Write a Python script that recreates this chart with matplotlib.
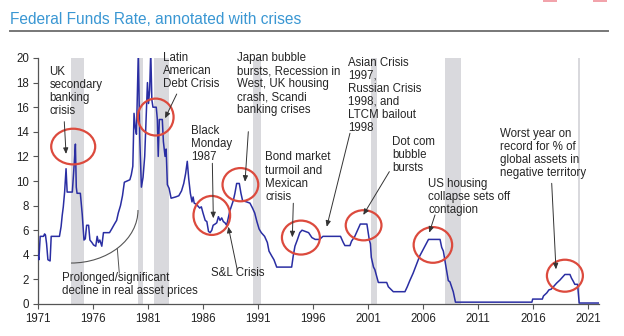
import matplotlib
matplotlib.use("Agg")
import matplotlib.pyplot as plt
from matplotlib.patches import Ellipse, Arc, Rectangle
from matplotlib.lines import Line2D

# Federal funds rate
years = [1971.00, 1971.08, 1971.20, 1971.50, 1971.60, 1971.68, 1971.78, 1971.90, 1972.10, 1972.20,
         1972.95, 1973.10, 1973.20, 1973.30, 1973.42, 1973.55, 1973.65, 1974.12, 1974.30, 1974.40,
         1974.48, 1974.55, 1974.85, 1975.02, 1975.18, 1975.30, 1975.42, 1975.60, 1975.72, 1975.90,
         1976.05, 1976.25, 1976.38, 1976.50, 1976.62, 1976.80, 1976.95, 1977.50, 1977.70, 1977.95,
         1978.15, 1978.30, 1978.50, 1978.68, 1978.85, 1979.35, 1979.48, 1979.62, 1979.73, 1979.85,
         1979.95, 1980.12, 1980.25, 1980.40, 1980.55, 1980.70, 1980.85, 1980.95, 1981.05, 1981.15,
         1981.25, 1981.35, 1981.45, 1981.75, 1981.85, 1981.93, 1982.03, 1982.30, 1982.40, 1982.55,
         1982.65, 1982.76, 1982.92, 1983.10, 1983.50, 1983.80, 1984.05, 1984.25, 1984.42, 1984.57,
         1984.70, 1984.85, 1985.00, 1985.10, 1985.20, 1985.40, 1985.70, 1985.85, 1986.00, 1986.20,
         1986.35, 1986.50, 1986.65, 1986.80, 1986.92, 1987.10, 1987.25, 1987.40, 1987.55, 1987.70,
         1987.85, 1988.00, 1988.15, 1988.30, 1988.45, 1988.75, 1988.90, 1989.06, 1989.30, 1989.45,
         1989.60, 1989.97, 1990.27, 1990.50, 1990.70, 1990.90, 1991.10, 1991.30, 1991.60, 1991.85,
         1992.00, 1992.25, 1992.45, 1992.70, 1994.06, 1994.20, 1994.36, 1994.57, 1994.80, 1995.00,
         1995.30, 1995.60, 1995.90, 1996.20, 1996.60, 1996.90, 1998.50, 1998.75, 1998.90, 1999.36,
         1999.50, 1999.80, 2000.00, 2000.30, 2000.90, 2001.03, 2001.12, 2001.22, 2001.30, 2001.50,
         2001.62, 2001.80, 2001.94, 2002.70, 2002.85, 2003.30, 2004.36, 2004.57, 2004.80, 2005.10,
         2005.40, 2005.70, 2006.00, 2006.30, 2006.50, 2007.55, 2007.70, 2007.85, 2008.00, 2008.15,
         2008.30, 2008.45, 2008.75, 2008.95, 2015.90, 2015.97, 2016.85, 2016.95, 2017.25, 2017.45,
         2017.65, 2017.85, 2018.15, 2018.45, 2018.75, 2018.90, 2019.36, 2019.50, 2019.66, 2019.80,
         2020.05, 2020.20, 2022.00]
rates = [4.0, 3.6, 5.5, 5.5, 5.7, 5.6, 4.9, 3.6, 3.5, 5.5,
         5.5, 6.3, 7.2, 7.9, 9.1, 11.0, 9.1, 9.1, 11.5, 13.0,
         9.5, 9.0, 9.0, 7.3, 5.2, 5.3, 6.4, 6.4, 5.2, 5.0,
         4.8, 4.7, 5.5, 5.0, 5.2, 4.7, 5.8, 5.8, 6.1, 6.5,
         6.8, 7.4, 8.0, 8.8, 9.9, 10.1, 10.5, 11.2, 15.5, 14.3,
         13.8, 20.5, 13.5, 9.5, 10.3, 12.0, 15.5, 18.0, 16.3, 17.4,
         20.5, 16.6, 16.0, 16.0, 15.0, 12.0, 15.0, 15.0, 13.2, 12.0,
         12.6, 9.7, 9.4, 8.6, 8.7, 8.8, 9.2, 9.8, 10.6, 11.6,
         10.2, 9.0, 8.3, 8.7, 8.2, 8.1, 7.8, 7.9, 7.4, 6.8,
         6.7, 5.9, 5.8, 6.0, 6.4, 6.5, 6.6, 7.1, 6.8, 7.0,
         6.7, 6.6, 6.4, 7.0, 7.6, 8.4, 9.0, 9.8, 9.8, 9.0,
         8.4, 8.3, 8.2, 7.8, 7.4, 6.7, 6.1, 5.8, 5.5, 5.0,
         4.3, 3.9, 3.6, 3.0, 3.0, 3.9, 4.7, 5.2, 5.8, 6.0,
         5.9, 5.8, 5.4, 5.25, 5.25, 5.5, 5.5, 5.0, 4.75, 4.75,
         5.1, 5.5, 5.9, 6.5, 6.5, 5.7, 5.2, 4.9, 3.8, 3.0,
         2.8, 2.2, 1.75, 1.75, 1.4, 1.0, 1.0, 1.4, 1.9, 2.5,
         3.2, 3.9, 4.4, 4.9, 5.25, 5.25, 4.6, 4.3, 3.5, 2.7,
         1.9, 1.8, 1.0, 0.15, 0.15, 0.4, 0.4, 0.65, 0.9, 1.15,
         1.2, 1.4, 1.7, 1.95, 2.25, 2.4, 2.4, 2.1, 1.85, 1.6,
         1.6, 0.08, 0.08]

recession_start = [1974.0, 1980.12, 1981.57, 1990.57, 2001.27, 2008.0, 2020.06]
recession_end = [1975.2, 1980.57, 1982.9, 1991.24, 2001.85, 2009.43, 2020.27]

xtick_years = [1971, 1976, 1981, 1986, 1991, 1996, 2001, 2006, 2011, 2016, 2021]
ytick_values = [0, 2, 4, 6, 8, 10, 12, 14, 16, 18, 20]

title = "Federal Funds Rate, annotated with crises"

# annotation layout (text, left, top)
notes = [
    ("UK\nsecondary\nbanking\ncrisis", 1972.03, 19.39),
    ("Latin\nAmerican\nDebt Crisis", 1982.39, 20.49),
    ("Japan bubble\nbursts, Recession in\nWest, UK housing\ncrash, Scandi\nbanking crises", 1989.12, 20.49),
    ("Black\nMonday\n1987", 1984.88, 14.59),
    ("Bond market\nturmoil and\nMexican\ncrisis", 1991.64, 12.40),
    ("Asian Crisis\n1997,\nRussian Crisis\n1998, and\nLTCM bailout\n1998", 1999.21, 20.12),
    ("Dot com\nbubble\nbursts", 2003.21, 13.66),
    ("US housing\ncollapse sets off\ncontagion", 2006.48, 10.24),
    ("Worst year on\nrecord for % of\nglobal assets in\nnegative territory", 2013.0, 14.31),
    ("S&L Crisis", 1986.7, 2.97),
    ("Prolonged/significant\ndecline in real asset prices", 1973.21, 2.64),
]

# arrows (from, to)
arrows = [
    ((1973.39, 14.82), (1973.55, 12.20)),
    ((1983.61, 17.07), (1982.55, 15.10)),
    ((1986.85, 11.44), (1986.94, 6.97)),
    ((1990.12, 14.01), (1989.82, 9.94)),
    ((1994.21, 8.19), (1994.12, 5.42)),
    ((1999.36, 13.88), (1997.25, 6.28)),
    ((2002.94, 10.76), (2000.57, 7.24)),
    ((2007.09, 7.24), (2006.57, 5.80)),
    ((2017.70, 9.81), (2018.09, 2.82)),
    ((1989.12, 2.76), (1988.30, 6.28)),
]

# red circles (centre, width, height)
circles = [
    (1974.2, 12.8, 4.0, 2.9),
    (1981.7, 15.2, 3.25, 3.0),
    (1986.8, 7.2, 3.33, 3.17),
    (1989.4, 9.7, 3.25, 2.7),
    (1994.9, 5.4, 3.45, 2.76),
    (2000.6, 6.4, 3.25, 2.45),
    (2006.9, 4.8, 3.5, 2.9),
    (2018.9, 2.3, 3.27, 2.6),
]


def main():
    plt.rcParams['font.family'] = ['Liberation Sans', 'DejaVu Sans']
    fig = plt.figure(figsize=(6.24, 3.36), dpi=100)
    ax = fig.add_axes([38 / 624, 1 - 304 / 336, 561 / 624, 246 / 336])

    for s, e in zip(recession_start, recession_end):
        ax.axvspan(s, e, color='#d9d9dd', lw=0, zorder=0)

    ax.plot(years, rates, color='#2a2ea3', lw=1.1, zorder=3)

    ax.set_xlim(1971, 2022)
    ax.set_ylim(0, 20)
    ax.set_xticks(xtick_years)
    ax.set_yticks(ytick_values)
    for side in ['top', 'right']:
        ax.spines[side].set_visible(False)
    for side in ['left', 'bottom']:
        ax.spines[side].set_color('#555555')
        ax.spines[side].set_linewidth(0.9)
    ax.tick_params(direction='out', length=3.5, width=0.8, color='#555555',
                   labelsize=8.3, labelcolor='#222222', pad=3)

    for c in circles:
        ax.add_patch(Ellipse((c[0], c[1]), c[2], c[3], fill=False,
                             edgecolor='#dc4a3d', lw=1.6, zorder=4, clip_on=False))

    for text, x, y in notes:
        ax.text(x, y, text, fontsize=8.3, color='#262626', ha='left', va='top',
                linespacing=1.12, zorder=5, clip_on=False)

    for start, tip in arrows:
        ax.annotate("", xy=tip, xytext=start,
                    arrowprops=dict(arrowstyle="-|>,head_length=0.35,head_width=0.15",
                                    lw=0.7, color='#333333', shrinkA=0, shrinkB=0),
                    zorder=5)

    # curve for the "prolonged decline" note
    ax.add_patch(Arc((1974.0, 7.64), 12.18, 8.62, theta1=270, theta2=360,
                     color='#555555', lw=0.8, zorder=2))
    ax.plot([1978.39, 1978.21], [2.52, 4.51], color='#555555', lw=0.7, zorder=2)

    fig.text(10 / 624, 1 - 24.5 / 336, title, fontsize=11.2, color='#3a97d3',
             ha='left', va='baseline')
    fig.add_artist(Line2D([10 / 624, 608 / 624], [1 - 31 / 336] * 2,
                          color='#777777', lw=1.4))
    for x0 in [543, 593]:
        fig.add_artist(Rectangle((x0 / 624, 1 - 2 / 336), 14 / 624, 2 / 336,
                                 color='#f2a3ab', lw=0))

    fig.savefig("out.png", dpi=100)


if __name__ == "__main__":
    main()
